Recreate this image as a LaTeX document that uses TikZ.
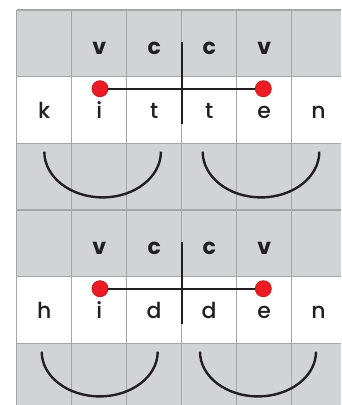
\documentclass[tikz,border=0pt]{standalone}
\usepackage{fontspec}
\setmainfont{Poppins}[UprightFont=* Medium, BoldFont=* Bold]
\usetikzlibrary{positioning}
\definecolor{cellgray}{HTML}{D1D3D4}
\definecolor{gridgray}{HTML}{A4A6A9}
\definecolor{inkblack}{HTML}{231F20}
\definecolor{pinred}{HTML}{ED1C24}
\definecolor{pinrim}{HTML}{C4161C}
\tikzset{
  wordletter/.style={anchor=base, inner sep=0pt, text=inkblack,
    font=\fontsize{22}{26}\selectfont},
  cvlabel/.style={wordletter, font=\fontsize{22}{26}\selectfont\bfseries},
  vowelpin/.style={circle, fill=pinred, draw=pinrim, line width=0.8pt,
    minimum size=16pt, inner sep=0pt},
  joinbar/.style={draw=inkblack, line width=2.2pt},
  splitbar/.style={draw=inkblack, line width=2.2pt},
  swoop/.style={draw=inkblack, line width=2.4pt},
  gridline/.style={draw=gridgray, line width=1.2pt}
}

\begin{document}
\begin{tikzpicture}[x=1pt, y=-1pt]
  \useasboundingbox (0,0) rectangle (341,405);
  % cells
  \fill[cellgray] (16.7,10) rectangle (341,405);
  \fill[white] (16.7,76.7) rectangle (341,143.3);
  \fill[white] (16.7,276.7) rectangle (341,343.3);
  \foreach \gx in {16.7,71.7,126.7,181.7,236.7,291.7}
    \draw[gridline] (\gx,10) -- (\gx,405);
  \foreach \gy in {10,76.7,143.3,210,276.7,343.3}
    \draw[gridline] (16.7,\gy) -- (341,\gy);

  % kitten
  \node[cvlabel] (kv1) at (99.2,54) {v};
  \node[cvlabel] (kc1) at (154.2,54) {c};
  \node[cvlabel] (kc2) at (209.2,54) {c};
  \node[cvlabel] (kv2) at (264.2,54) {v};
  \node[wordletter] (k1) at (44.2,118) {k};
  \node[wordletter] (k2) at (99.2,118) {i};
  \node[wordletter] (k3) at (154.2,118) {t};
  \node[wordletter] (k4) at (209.2,118) {t};
  \node[wordletter] (k5) at (264.2,118) {e};
  \node[wordletter] (k6) at (318.5,118) {n};
  \coordinate (kcuttop) at (181.7,42.3);
  \coordinate (kcutbot) at (181.7,123.5);
  \draw[splitbar] (kcuttop) -- (kcutbot);
  \node[vowelpin] (kpinA) at (100,88.7) {};
  \node[vowelpin] (kpinB) at (263.3,88.7) {};
  \draw[joinbar] (kpinA.east) -- (kpinB.west);
  \draw[swoop] (44.3,151.7) arc[start angle=180, end angle=360, x radius=58.3pt, y radius=45.7pt];
  \draw[swoop] (202.7,151.7) arc[start angle=180, end angle=360, x radius=58.3pt, y radius=45.7pt];

  % hidden
  \node[cvlabel] (hv1) at (99.2,254) {v};
  \node[cvlabel] (hc1) at (154.2,254) {c};
  \node[cvlabel] (hc2) at (209.2,254) {c};
  \node[cvlabel] (hv2) at (264.2,254) {v};
  \node[wordletter] (h1) at (44.2,318) {h};
  \node[wordletter] (h2) at (99.2,318) {i};
  \node[wordletter] (h3) at (154.2,318) {d};
  \node[wordletter] (h4) at (209.2,318) {d};
  \node[wordletter] (h5) at (264.2,318) {e};
  \node[wordletter] (h6) at (318.5,318) {n};
  \coordinate (hcuttop) at (181.7,242.3);
  \coordinate (hcutbot) at (181.7,323.5);
  \draw[splitbar] (hcuttop) -- (hcutbot);
  \node[vowelpin] (hpinA) at (100,288.7) {};
  \node[vowelpin] (hpinB) at (263.3,288.7) {};
  \draw[joinbar] (hpinA.east) -- (hpinB.west);
  \draw[swoop] (41.7,351.7) arc[start angle=180, end angle=360, x radius=58pt, y radius=44.7pt];
  \draw[swoop] (200,351.7) arc[start angle=180, end angle=360, x radius=58pt, y radius=44.7pt];
\end{tikzpicture}
\end{document}
